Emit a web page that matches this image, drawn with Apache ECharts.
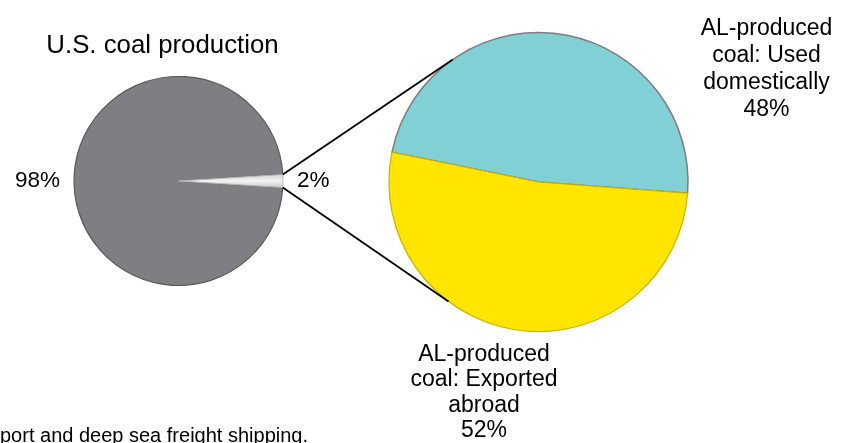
<!DOCTYPE html>
<html>
<head>
<meta charset="utf-8">
<script src="https://cdn.jsdelivr.net/npm/echarts@6/dist/echarts.min.js"></script>
<style>
html,body{margin:0;padding:0;background:#fff;}
#chart{width:846px;height:443px;}
</style>
</head>
<body>
<div id="chart"></div>
<script>
// ---- data ----
var mainTitle = 'U.S. coal production';
var mainCategories = ['Other U.S. coal', 'AL-produced coal'];
var mainValues = [98, 2];
var subCategories = ['AL-produced\ncoal: Used\ndomestically', 'AL-produced\ncoal: Exported\nabroad'];
var subValues = [48, 52];
var footnote = 'port and deep sea freight shipping.';

// ---- layout ----
var FONT = '"Liberation Sans", Arial, Helvetica, sans-serif';
var L = {cx: 178.5, cy: 181, r: 104.5};
var R = {cx: 538.5, cy: 182, r: 149.5};
var total = mainValues.reduce(function(a,b){return a+b;},0);
var halfSlice = mainValues[1] / total * 360 / 2; // degrees
var rad = Math.PI / 180;
var topAttach = 125, botAttach = 233;

function pt(c, ang){ return [c.cx + c.r*Math.cos(ang*rad), c.cy - c.r*Math.sin(ang*rad)]; }
var a1 = pt(L, halfSlice), a2 = pt(L, -halfSlice);
var b1 = pt(R, topAttach), b2 = pt(R, botAttach);

var chart = echarts.init(document.getElementById('chart'), null, {renderer:'canvas'});
chart.setOption({
  backgroundColor: '#ffffff',
  animation: false,
  textStyle: {fontFamily: FONT},
  series: [
    {
      type: 'pie',
      center: [L.cx, L.cy],
      radius: [0, L.r],
      startAngle: -halfSlice,
      clockwise: true,
      avoidLabelOverlap: false,
      silent: true,
      label: {
        show: true, position: 'outside',
        formatter: function(p){ return p.value + '%'; },
        fontFamily: FONT, fontSize: 22.5, color: '#000'
      },
      labelLine: {show: false, length: 5, length2: 4},
      data: [
        {name: mainCategories[0], value: mainValues[0],
         itemStyle: {color: '#7f7e83', borderColor: '#58585b', borderWidth: 1.2}},
        {name: mainCategories[1], value: mainValues[1],
         itemStyle: {color: new echarts.graphic.LinearGradient(0,0,0,1,[
            {offset:0,color:'#cfcfcf'},{offset:0.5,color:'#f4f4f4'},{offset:1,color:'#c4c4c4'}]),
           borderColor: '#b8b8b8', borderWidth: 1}}
      ]
    },
    {
      type: 'pie',
      center: [R.cx, R.cy],
      radius: [0, R.r],
      startAngle: 168.5,
      clockwise: true,
      avoidLabelOverlap: false,
      silent: true,
      label: {
        show: true, position: 'outside',
        formatter: function(p){ return p.name + '\n' + p.value + '%'; },
        fontFamily: FONT, fontSize: 23, color: '#000', align: 'center'
      },
      labelLine: {show: false},
      labelLayout: function(params){
        if (params.dataIndex === 0) return {x: 766.5, y: 69.5, align: 'center', verticalAlign: 'middle'};
        return {x: 484, y: 392.5, align: 'center', verticalAlign: 'middle'};
      },
      data: [
        {name: subCategories[0], value: subValues[0],
         label: {lineHeight: 27},
         itemStyle: {color: '#80d0d5', borderColor: '#7d7d80', borderWidth: 1.5}},
        {name: subCategories[1], value: subValues[1],
         label: {lineHeight: 25.5},
         itemStyle: {color: '#ffe500', borderColor: '#c7b300', borderWidth: 1.2}}
      ]
    }
  ],
  graphic: [
    {type: 'text', x: 162.5, y: 46, z: 10,
     style: {text: mainTitle, font: '25.8px ' + FONT, fill: '#000', align: 'center', verticalAlign: 'middle'}},
    {type: 'line', z: 10, shape: {x1: a1[0], y1: a1[1], x2: b1[0], y2: b1[1]},
     style: {stroke: '#000', lineWidth: 1.8}},
    {type: 'line', z: 10, shape: {x1: a2[0], y1: a2[1], x2: b2[0], y2: b2[1]},
     style: {stroke: '#000', lineWidth: 1.8}},
    {type: 'text', x: 0, y: 436, z: 10,
     style: {text: footnote, font: '20px ' + FONT, fill: '#000', align: 'left', verticalAlign: 'middle'}}
  ]
});
</script>
</body>
</html>
